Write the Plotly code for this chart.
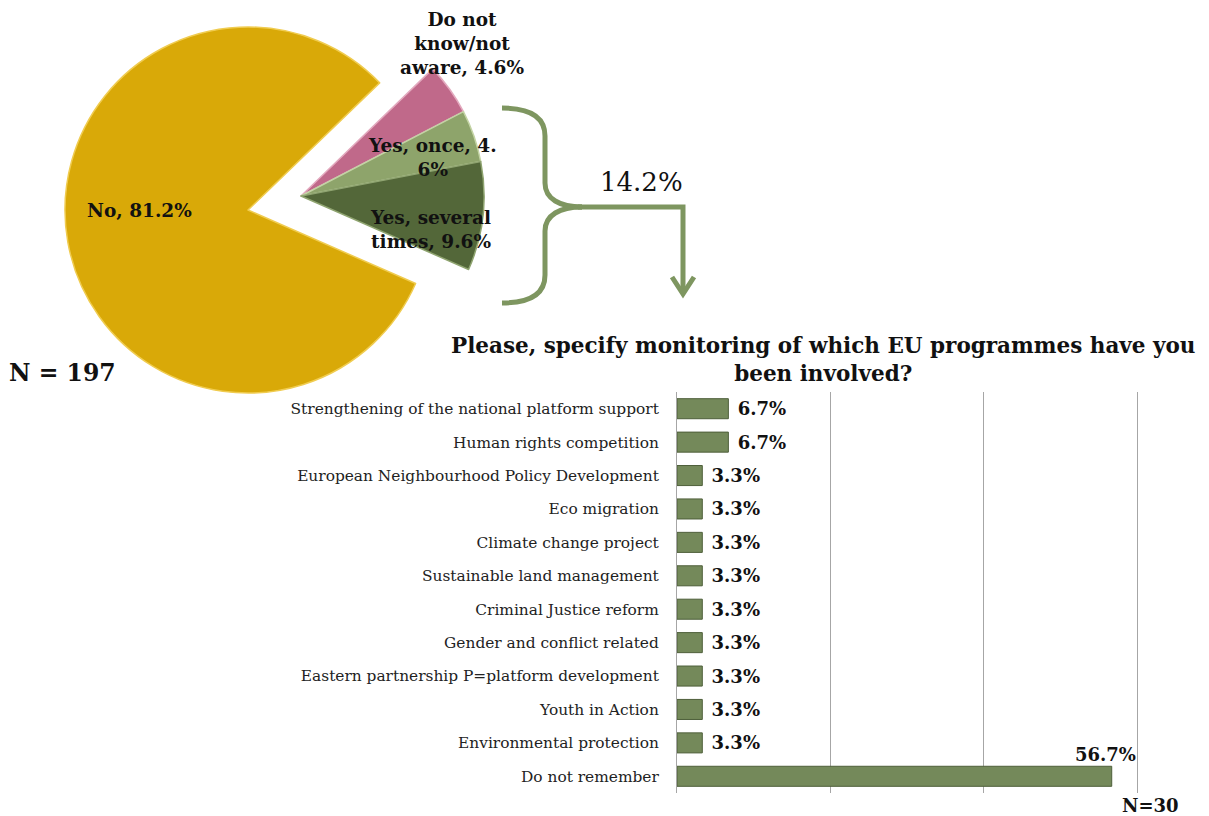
import plotly.graph_objects as go

# ---------------- data ----------------
pie_labels = ["Do not know/not aware", "Yes, once", "Yes, several times", "No"]
pie_values = [4.6, 4.6, 9.6, 81.2]
pie_colors = ["#C0698A", "#8EA46B", "#536739", "#D9A908"]
pie_line_colors = ["#E3A9BE", "#C3D3A4", "#8FA470", "#F0CC50"]
pie_breaks = [[6, 15], [13], [12], []]
pie_n = 197
involved_share = 14.2

bar_categories = [
    "Strengthening of the national platform support",
    "Human rights competition",
    "European Neighbourhood Policy Development",
    "Eco migration",
    "Climate change project",
    "Sustainable land management",
    "Criminal Justice reform",
    "Gender and conflict related",
    "Eastern partnership P=platform development",
    "Youth in Action",
    "Environmental protection",
    "Do not remember",
]
bar_values = [6.7, 6.7, 3.3, 3.3, 3.3, 3.3, 3.3, 3.3, 3.3, 3.3, 3.3, 56.7]
bar_n = 30
bar_title = "Please, specify monitoring of which EU programmes have you<br>been involved?"

# ---------------- helpers ----------------
# page body has an 8px margin; figure is sized so it fits inside the window
OFF = 8
W, H = 1209 - OFF, 816 - OFF
SERIF = "DejaVu Serif"


def fx(p):
    return (p - OFF) / W


def fy(p):
    return 1 - (p - OFF) / H


def wrap(text, breaks):
    for i in sorted(breaks, reverse=True):
        if text[i] == " ":
            text = text[:i] + "<br>" + text[i + 1:]
        else:
            text = text[:i] + "<br>" + text[i:]
    return text


fig = go.Figure()

# ---------------- pie (No slice body + exploded group) ----------------
clear = "rgba(0,0,0,0)"
c1 = [clear, clear, clear, pie_colors[3]]
l1 = [clear, clear, clear, pie_line_colors[3]]
c2 = pie_colors[:3] + [clear]
l2 = pie_line_colors[:3] + [clear]

r = 183
cx1, cy1 = 248, 210
cx2, cy2 = 301, 196

fig.add_trace(go.Pie(
    labels=pie_labels, values=pie_values, sort=False, direction="clockwise",
    rotation=46, textinfo="none", hoverinfo="skip",
    marker=dict(colors=c1, line=dict(color=l1, width=1.5)),
    domain=dict(x=[fx(cx1 - r), fx(cx1 + r)], y=[fy(cy1 + r), fy(cy1 - r)]),
    showlegend=False,
))
fig.add_trace(go.Pie(
    labels=pie_labels, values=pie_values, sort=False, direction="clockwise",
    rotation=46, textinfo="none", hoverinfo="skip",
    marker=dict(colors=c2, line=dict(color=l2, width=1.5)),
    domain=dict(x=[fx(cx2 - r), fx(cx2 + r)], y=[fy(cy2 + r), fy(cy2 - r)]),
    showlegend=False,
))

pie_label_pos = [(462, 43), (432, 157), (430, 229), (139, 210)]
for lab, val, brk, (px, py) in zip(pie_labels, pie_values, pie_breaks, pie_label_pos):
    fig.add_annotation(
        x=fx(px), y=fy(py), xref="paper", yref="paper", showarrow=False,
        text="<b>" + wrap(f"{lab}, {val}%", brk) + "</b>",
        font=dict(family=SERIF, size=18.5, color="#111111"),
        xanchor="center", yanchor="middle", align="center",
    )

fig.add_annotation(
    x=fx(7), y=fy(373), xref="paper", yref="paper", showarrow=False,
    text=f"<b>N = {pie_n}</b>", font=dict(family=SERIF, size=23.5, color="#111111"),
    xanchor="left", yanchor="middle",
)

# ---------------- bracket + arrow ----------------
def P(x, y):
    return f"{fx(x):.5f},{fy(y):.5f}"


green = "#7E9660"
paths = [
    f"M {P(502,108)} C {P(532,108)} {P(545,118)} {P(545,136)} L {P(545,183)} C {P(545,199)} {P(560,207)} {P(582,207)}",
    f"M {P(502,303)} C {P(532,303)} {P(545,293)} {P(545,275)} L {P(545,231)} C {P(545,215)} {P(560,207)} {P(582,207)}",
    f"M {P(578,207)} L {P(683,207)} L {P(683,293)}",
    f"M {P(672,277)} L {P(683,294)} L {P(694,277)}",
]
for p in paths:
    fig.add_shape(type="path", path=p, xref="paper", yref="paper",
                  line=dict(color=green, width=5))

fig.add_annotation(
    x=fx(641), y=fy(182), xref="paper", yref="paper", showarrow=False,
    text=f"{involved_share}%", font=dict(family=SERIF, size=26, color="#111111"),
    xanchor="center", yanchor="middle",
)

# ---------------- bar chart ----------------
positions = ["outside"] * (len(bar_values) - 1) + ["none"]
fig.add_trace(go.Bar(
    x=bar_values, y=bar_categories, orientation="h",
    marker=dict(color="#74895A", line=dict(color="#4E5F3A", width=1)),
    width=0.6,
    text=[f" {v:.1f}%" for v in bar_values], textposition=positions,
    textfont=dict(family=SERIF, size=18, color="#111111"),
    texttemplate="<b>%{text}</b>",
    constraintext="none", cliponaxis=False,
    hoverinfo="skip", showlegend=False,
    xaxis="x", yaxis="y",
))

fig.add_annotation(
    x=bar_values[-1], y=bar_categories[-1], xref="x", yref="y",
    text=f"<b>{bar_values[-1]:.1f}%</b>", showarrow=False,
    font=dict(family=SERIF, size=18, color="#111111"),
    xanchor="center", yanchor="middle", xshift=-6, yshift=22,
)

fig.add_annotation(
    x=fx(1181), y=fy(805), xref="paper", yref="paper", showarrow=False,
    text=f"<b>N={bar_n}</b>", font=dict(family=SERIF, size=18, color="#111111"),
    xanchor="right", yanchor="middle",
)

fig.add_annotation(
    x=fx(823), y=fy(360), xref="paper", yref="paper", showarrow=False,
    text=f"<b>{bar_title}</b>", font=dict(family=SERIF, size=21.5, color="#111111"),
    xanchor="center", yanchor="middle", align="center",
)

fig.update_layout(
    width=W, height=H,
    margin=dict(l=0, r=0, t=0, b=0),
    paper_bgcolor="white", plot_bgcolor="white",
    showlegend=False,
    xaxis=dict(
        domain=[fx(677), fx(1144.7)], range=[0, 61], tickvals=[20, 40, 60],
        showgrid=True, gridcolor="#A6A6A6", gridwidth=1.2,
        zeroline=False, showticklabels=False, showline=False, ticks="",
        fixedrange=True,
    ),
    yaxis=dict(
        domain=[fy(793), fy(392)], range=[len(bar_categories) - 0.5, -0.5],
        categoryorder="array", categoryarray=bar_categories,
        showline=True, linecolor="#A6A6A6", linewidth=1.2,
        ticks="outside", ticklen=14, tickcolor="rgba(0,0,0,0)",
        tickfont=dict(family=SERIF, size=15.4, color="#222222"),
        showgrid=False, zeroline=False, fixedrange=True,
    ),
)

fig.write_html("out.html")
